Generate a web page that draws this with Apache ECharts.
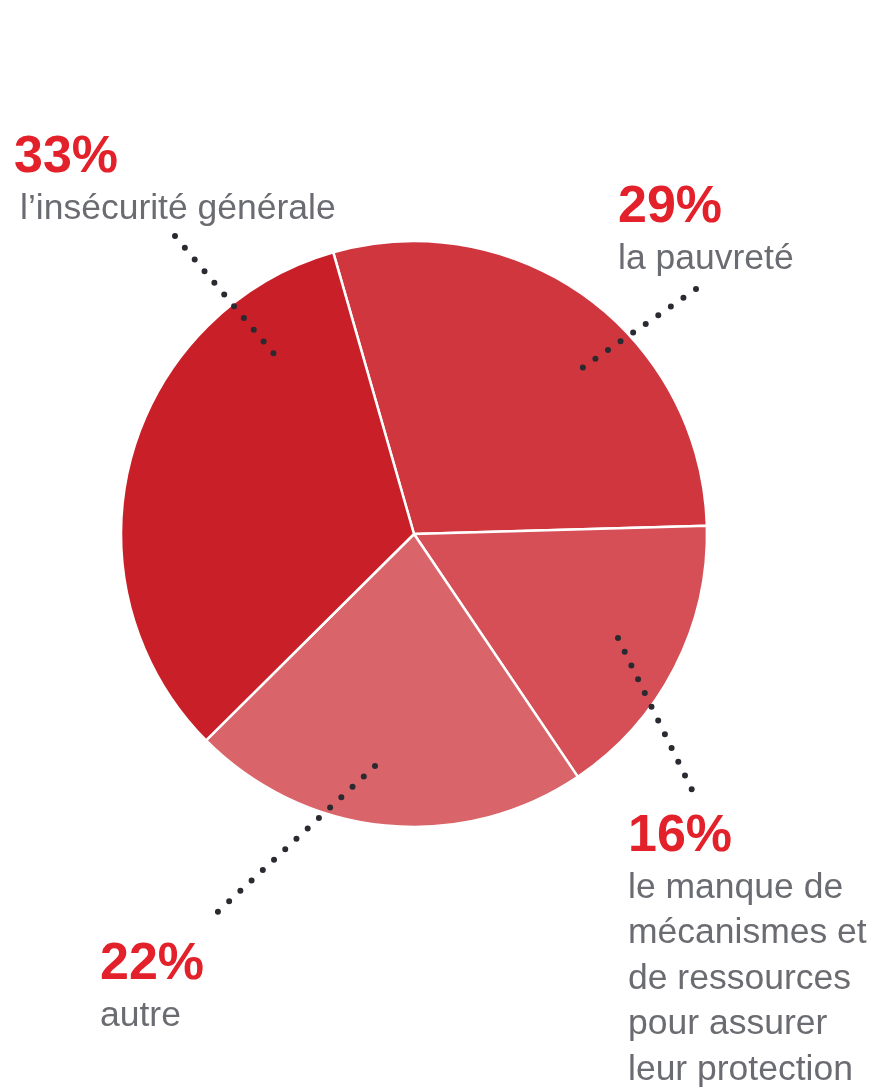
<!DOCTYPE html>
<html>
<head>
<meta charset="utf-8">
<title>pie</title>
<script src="https://cdn.jsdelivr.net/npm/echarts@6.0.0/dist/echarts.min.js"></script>
<style>
  html, body { margin: 0; padding: 0; background: #fff; }
  #chart { width: 873px; height: 1087px; }
</style>
</head>
<body>
<div id="chart"></div>
<script>
// data, clockwise from the top
const names = [
  "la pauvreté",
  "le manque de\nmécanismes et\nde ressources\npour assurer\nleur protection",
  "autre",
  "l’insécurité générale",
];
const values = [29, 16, 22, 33];
const colors = ["#d0363e", "#d64f56", "#d9646a", "#c91f28"];

// where each label goes (top-left corner) and its dotted leader line
const labelPos = [
  { x: 618, y: 180 },
  { x: 628, y: 809 },
  { x: 100, y: 937 },
  { x: 14, y: 130 },
];
const leaders = [
  [[696, 289], [572, 375]],
  [[618, 638], [693, 792]],
  [[375, 766], [210, 919]],
  [[175, 236], [275, 355]],
];

const chart = echarts.init(document.getElementById("chart"), null, { renderer: "canvas" });

const font = "'Liberation Sans', Arial, sans-serif";
const nameStyle = {
  fontFamily: font,
  fontSize: 35.5,
  lineHeight: 45.5,
  color: "#6b6c72",
};

chart.setOption({
  animation: false,
  backgroundColor: "#fff",
  series: [
    {
      type: "pie",
      center: [414, 534],
      radius: 293,
      startAngle: 106,
      clockwise: true,
      avoidLabelOverlap: false,
      emphasis: { disabled: true },
      itemStyle: { borderColor: "#fff", borderWidth: 2.5 },
      label: {
        show: true,
        position: "outside",
        formatter: (p) => {
          // the first label's text sits a little to the right of its number
          const key = p.dataIndex === 3 ? "m" : "n";
          const lines = p.name.split("\n").map((l) => "{" + key + "|" + l + "}").join("\n");
          return "{p|" + p.value + "%}\n" + lines;
        },
        rich: {
          p: {
            fontFamily: font,
            fontWeight: "bold",
            fontSize: 52,
            lineHeight: 56,
            color: "#e3212b",
          },
          n: nameStyle,
          m: Object.assign({}, nameStyle, { padding: [0, 0, 0, 6] }),
        },
      },
      labelLine: { show: false },
      labelLayout: (params) => {
        const pos = labelPos[params.dataIndex];
        return { x: pos.x, y: pos.y, align: "left", verticalAlign: "top" };
      },
      data: values.map((v, i) => ({
        name: names[i],
        value: v,
        itemStyle: { color: colors[i] },
      })),
    },
  ],
  graphic: leaders.map((pts) => ({
    type: "polyline",
    z: 100,
    silent: true,
    shape: { points: pts },
    style: {
      stroke: "#2a2a30",
      lineWidth: 6,
      lineCap: "round",
      lineDash: [0, 15.3],
      fill: null,
    },
  })),
});
</script>
</body>
</html>
